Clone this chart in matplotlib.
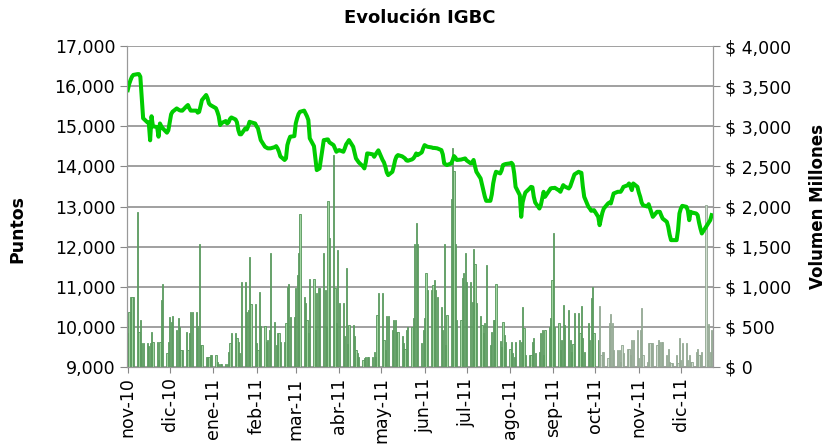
import matplotlib.pyplot as plt
from matplotlib.ticker import FuncFormatter, MultipleLocator
import pandas as pd

# días hábiles nov-10 .. dic-11 (60 semanas x 5 días)
fechas = pd.bdate_range("2010-11-01", "2011-12-23")

igbc = [
    15900, 16050, 16150, 16235, 16280,  16300, 16300, 16235, 15700, 15200,
    15100, 15100, 14650, 15250, 15000,  14980, 14740, 15070, 15000, 14950,
    14840, 14900, 15100, 15300, 15362,  15445, 15420, 15400, 15390, 15390,
    15500, 15530, 15450, 15390, 15390,  15390, 15340, 15360, 15500, 15653,
    15780, 15700, 15570, 15530, 15510,  15450, 15362, 15250, 15030, 15080,
    15130, 15070, 15100, 15180, 15220,  15170, 15100, 14905, 14800, 14800,
    14950, 14920, 15000, 15112, 15100,  15070, 15000, 14950, 14800, 14656,
    14490, 14470, 14450, 14450, 14450,  14480, 14505, 14450, 14365, 14250,
    14160, 14200, 14530, 14650, 14740,  14755, 15070, 15200, 15305, 15360,
    15390, 15320, 15250, 15155, 14700,  14505, 14200, 13907, 13930, 13950,
    14656, 14660, 14670, 14672, 14600,  14530, 14450, 14365, 14390, 14406,
    14365, 14450, 14550, 14600, 14656,  14490, 14350, 14199, 14150, 14100,
    14000, 13950, 14100, 14323, 14320,  14300, 14240, 14300, 14350, 14400,
    14160, 14100, 13990, 13850, 13783,  13866, 14000, 14160, 14250, 14282,
    14250, 14224, 14200, 14150, 14140,  14174, 14200, 14250, 14323, 14282,
    14350, 14450, 14530, 14510, 14490,  14473, 14460, 14460, 14455, 14450,
    14406, 14300, 14075, 14050, 14033,  14075, 14150, 14257, 14220, 14160,
    14170, 14180, 14190, 14199, 14150,  14075, 14100, 14160, 14000, 13866,
    13700, 13550, 13409, 13250, 13142,  13142, 13300, 13575, 13750, 13866,
    13825, 13900, 14033, 14050, 14060,  14075, 14090, 14050, 13825, 13490,
    13284, 12743, 13100, 13242, 13350,  13450, 13490, 13480, 13242, 13100,
    12950, 13033, 13200, 13367, 13242,  13400, 13450, 13460, 13460, 13466,
    13400, 13367, 13450, 13533, 13500,  13450, 13500, 13600, 13700, 13800,
    13866, 13850, 13840, 13500, 13242,  12992, 12950, 12893, 12900, 12910,
    12743, 12536, 12700, 12850, 12950,  13075, 13100, 13075, 13200, 13325,
    13367, 13367, 13367, 13420, 13490,  13530, 13575, 13500, 13409, 13575,
    13490, 13350, 13242, 13100, 13033,  13000, 13058, 12950, 12850, 12743,
    12868, 12868, 12868, 12780, 12700,  12618, 12494, 12300, 12162, 12162,
    12162, 12411, 12826, 12950, 13017,  12992, 12900, 12660, 12868, 12850,
    12826, 12785, 12600, 12450, 12328,  12494, 12550, 12600, 12660, 12785,
]

volumen = [
    420, 690, 868, 868, 868,  1935, 440, 585, 300, 295,
    295, 260, 300, 440, 315,  315, 90, 315, 835, 1040,
    180, 315, 625, 565, 635,  460, 605, 500, 210, 210,
    440, 210, 420, 690, 690,  690, 510, 1532, 275, 275,
    130, 130, 130, 150, 150,  150, 65, 37, 37, 37,
    37, 37, 190, 295, 420,  420, 360, 315, 170, 1063,
    1063, 690, 710, 1367, 785,  785, 295, 210, 930, 510,
    510, 315, 335, 460, 1416,  565, 275, 420, 420, 315,
    315, 545, 1000, 1040, 620,  620, 980, 1146, 1416, 1906,
    875, 793, 585, 420, 1100,  1100, 460, 918, 980, 980,
    1416, 960, 500, 2072, 1607,  2641, 980, 545, 1457, 793,
    793, 390, 1230, 290, 525,  525, 380, 210, 170, 120,
    87, 110, 130, 130, 130,  130, 190, 130, 648, 918,
    918, 335, 210, 635, 635,  460, 585, 585, 430, 430,
    390, 300, 230, 460, 495,  500, 605, 1532, 1798, 1532,
    305, 460, 605, 1175, 960,  960, 1020, 1085, 960, 875,
    750, 460, 1532, 275, 648,  2090, 2725, 2442, 1532, 585,
    585, 1105, 1175, 1416, 1060,  1060, 815, 1466, 1280, 793,
    635, 525, 420, 545, 1275,  275, 440, 585, 585, 1030,
    325, 255, 565, 400, 315,  230, 315, 180, 130, 315,
    335, 315, 750, 480, 150,  150, 150, 315, 360, 170,
    190, 420, 460, 150, 460,  500, 605, 1090, 1673, 500,
    545, 210, 335, 770, 525,  710, 335, 190, 290, 668,
    668, 420, 760, 360, 190,  545, 335, 855, 993, 420,
    335, 760, 150, 190, 190,  110, 545, 660, 545, 210,
    210, 210, 65, 275, 170,  230, 230, 150, 335, 335,
    455, 110, 460, 730, 150,  65, 295, 295, 295, 295,
    275, 335, 315, 315, 315,  150, 230, 65, 45, 45,
    150, 52, 360, 87, 295,  295, 87, 150, 65, 65,
    190, 230, 150, 150, 190,  2018, 87, 535, 190, 460,
]

meses = ["nov-10", "dic-10", "ene-11", "feb-11", "mar-11", "abr-11", "may-11",
         "jun-11", "jul-11", "ago-11", "sep-11", "oct-11", "nov-11", "dic-11"]
inicio_meses = pd.date_range("2010-11-01", "2011-12-01", freq="MS")

fig = plt.figure(figsize=(8.27, 4.47), dpi=100)
ax = fig.add_axes([0.1536, 0.179, 0.7086, 0.718])   # volumen (derecha)
ax2 = ax.twinx()                                      # puntos (izquierda)

# las barras desde oct-11 se ven gris-verdosas
corte = pd.Timestamp("2011-10-04")
caras = ["#cfdccf" if f >= corte else "#a3d6a3" for f in fechas]
bordes = ["#8fa58f" if f >= corte else "#55965a" for f in fechas]
ax.bar(fechas, volumen, width=0.9, color=caras, edgecolor=bordes, linewidth=0.6)
ax.set_ylim(0, 4000)
ax.yaxis.set_major_locator(MultipleLocator(500))
ax.yaxis.set_major_formatter(FuncFormatter(lambda v, p: "$ {:,.0f}".format(v)))
ax.yaxis.tick_right()
ax.yaxis.set_label_position("right")
ax.set_ylabel("Volumen Millones", fontsize=12, fontweight="bold")
ax.yaxis.set_label_coords(1.163, 0.5)
ax.grid(axis="y", color="#999999", lw=1.3)
ax.set_axisbelow(True)

ax2.plot(fechas, igbc, color="#00cc00", lw=2.9, solid_joinstyle="round")
ax2.set_ylim(9000, 17000)
ax2.yaxis.set_major_locator(MultipleLocator(1000))
ax2.yaxis.set_major_formatter(FuncFormatter(lambda v, p: "{:,.0f}".format(v)))
ax2.yaxis.tick_left()
ax2.yaxis.set_label_position("left")
ax2.set_ylabel("Puntos", fontsize=12.5, fontweight="bold")
ax2.yaxis.set_label_coords(-0.172, 0.43)

ax.set_xlim(pd.Timestamp("2010-10-31 12:00"), pd.Timestamp("2011-12-24"))
ax.set_xticks(inicio_meses)
ax.set_xticklabels(meses, rotation=90, fontsize=12.5)

for a in (ax, ax2):
    a.tick_params(axis="y", labelsize=12.5, length=5, color="#888888")
    a.tick_params(axis="x", length=4, color="#888888")
    for s in a.spines.values():
        s.set_color("#999999")
    a.spines["top"].set_visible(False)

fig.text(420 / 827, 1 - 18 / 447, "Evolución IGBC", fontsize=13,
         fontweight="bold", ha="center", va="center")

plt.savefig("out.png", dpi=100)
